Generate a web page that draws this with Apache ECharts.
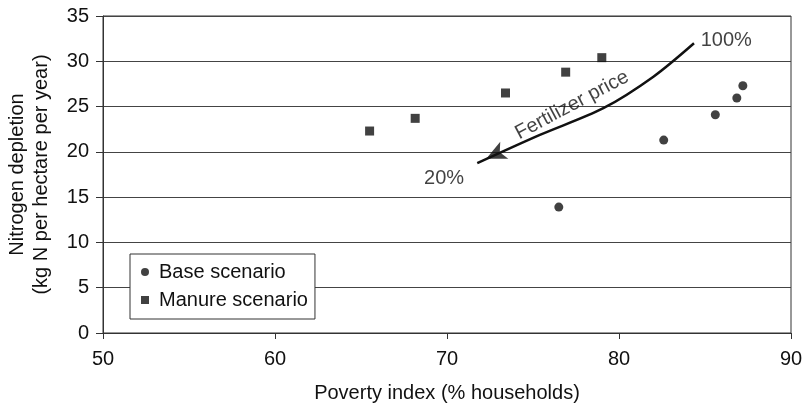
<!DOCTYPE html>
<html><head><meta charset="utf-8">
<script src="https://cdn.jsdelivr.net/npm/echarts@6/dist/echarts.min.js"></script>
<style>html,body{margin:0;padding:0;background:#fff}#c{width:806px;height:405px}</style>
</head><body><div id="c"></div>
<script>
const baseX = [76.5, 82.6, 85.6, 86.85, 87.2];
const baseY = [13.9, 21.3, 24.1, 25.95, 27.3];
const manureX = [65.5, 68.15, 73.4, 76.9, 79.0];
const manureY = [22.3, 23.7, 26.5, 28.8, 30.4];
const arrowX = [84.36, 82.0, 79.09, 75.4, 71.76];
const arrowY = [31.99, 28.3, 24.82, 21.87, 18.75];
const arrowHead = [72.28, 19.23];
const xTicks = [50, 60, 70, 80, 90];
const yTicks = [0, 5, 10, 15, 20, 25, 30, 35];
const font = 'Liberation Sans, Arial, sans-serif';
const ink = '#111';

const chart = echarts.init(document.getElementById('c'));
const lbl = (t, extra) => Object.assign({show: true, formatter: t, fontFamily: font, fontSize: 20, color: ink}, extra);
chart.setOption({
  animation: false,
  grid: {left: 103, right: 15, top: 16, bottom: 72, show: true, borderColor: '#333', borderWidth: 1,
         containLabel: false, outerBoundsMode: 'none'},
  xAxis: {
    type: 'value', min: xTicks[0], max: xTicks[xTicks.length - 1], interval: 10,
    name: 'Poverty index (% households)', nameLocation: 'middle', nameGap: 50,
    nameTextStyle: {fontFamily: font, fontSize: 20, color: ink},
    axisLine: {lineStyle: {color: '#333'}},
    axisTick: {show: true, length: 6, lineStyle: {color: '#333'}},
    axisLabel: {fontFamily: font, fontSize: 20, color: ink, margin: 16},
    splitLine: {show: false}
  },
  yAxis: {
    type: 'value', min: yTicks[0], max: yTicks[yTicks.length - 1], interval: 5,
    name: 'Nitrogen depletion\n(kg N per hectare per year)', nameLocation: 'middle', nameGap: 50,
    nameTextStyle: {fontFamily: font, fontSize: 20, color: ink, lineHeight: 24},
    axisLine: {show: true, lineStyle: {color: '#333'}},
    axisTick: {show: true, length: 7, lineStyle: {color: '#333'}},
    axisLabel: {fontFamily: font, fontSize: 20, color: ink, margin: 14},
    splitLine: {show: true, lineStyle: {color: '#444', width: 1}}
  },
  legend: {
    orient: 'vertical', left: 130, top: 254,
    backgroundColor: '#fff', borderColor: '#333', borderWidth: 1,
    padding: [8, 7, 9, 11], itemGap: 8, itemWidth: 8, itemHeight: 8,
    textStyle: {fontFamily: font, fontSize: 20, color: ink, padding: [0, 0, 0, 5]},
    data: [{name: 'Base scenario', icon: 'circle'}, {name: 'Manure scenario', icon: 'rect'}]
  },
  series: [
    {name: 'Base scenario', type: 'scatter', symbol: 'circle', symbolSize: 9,
     itemStyle: {color: '#111'}, data: baseX.map((x, i) => [x, baseY[i]]), z: 5},
    {name: 'Manure scenario', type: 'scatter', symbol: 'rect', symbolSize: 9,
     itemStyle: {color: '#111'}, data: manureX.map((x, i) => [x, manureY[i]]), z: 5},
    {name: 'arrow', type: 'line', smooth: 0.3, data: arrowX.map((x, i) => [x, arrowY[i]]), showSymbol: false,
     symbol: 'none', lineStyle: {color: ink, width: 2.5}, z: 4, silent: true},
    {name: 'arrowHead', type: 'scatter', symbol: 'arrow', symbolSize: [14, 20], symbolRotate: 115.5,
     itemStyle: {color: ink}, data: [arrowHead], z: 4, silent: true},
    {name: 'notes', type: 'scatter', symbolSize: 0, silent: true, z: 6,
     data: [
       {value: [84.75, 32.35], label: lbl('100%', {position: 'right', distance: 0})},
       {value: [69.83, 17.08], label: lbl('20%', {position: 'inside'})},
       {value: [77.27, 25.17], label: lbl('Fertilizer price', {position: 'inside', rotate: 28})}
     ]}
  ]
});
</script></body></html>
